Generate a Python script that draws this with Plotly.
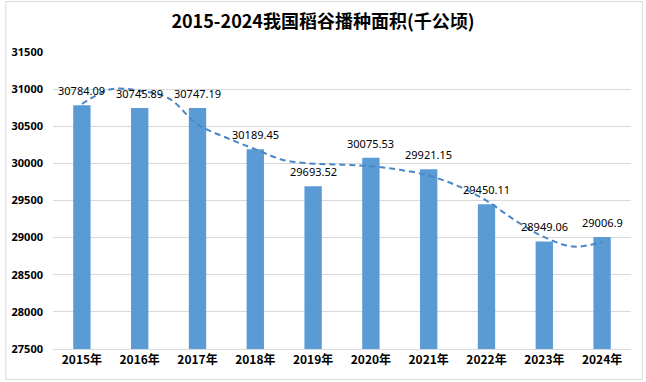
import plotly.graph_objects as go

years = ["2015年", "2016年", "2017年", "2018年", "2019年", "2020年", "2021年", "2022年", "2023年", "2024年"]
area = [30784.09, 30745.89, 30747.19, 30189.45, 29693.52, 30075.53, 29921.15, 29450.11, 28949.06, 29006.9]
area_labels = ["30784.09", "30745.89", "30747.19", "30189.45", "29693.52", "30075.53", "29921.15", "29450.11", "28949.06", "29006.9"]

# dashed trend curve at half-year steps
trend_pos = [0, 0.5, 1, 1.5, 2, 2.5, 3, 3.5, 4, 4.5, 5, 5.5, 6, 6.5, 7, 7.5, 8, 8.5, 9]
trend_val = [30800, 30998, 30978, 30877, 30527, 30345, 30190, 30043, 29996, 29982,
             29962, 29913, 29837, 29697, 29498, 29229, 29007, 28880, 28940]

y_ticks = [27500, 28000, 28500, 29000, 29500, 30000, 30500, 31000, 31500]

xpos = list(range(len(years)))

fig = go.Figure()
fig.add_trace(go.Bar(
    x=xpos, y=area, width=0.30,
    marker=dict(color="#5B9BD5", line=dict(width=0)),
    showlegend=False,
))
fig.add_trace(go.Scatter(
    x=trend_pos, y=trend_val, mode="lines",
    line=dict(color="#4A86C5", width=2, dash="6px,4px", shape="spline", smoothing=1.0),
    showlegend=False, hoverinfo="skip",
))

annotations = [
    dict(x=xv, y=yv, xref="x", yref="y", text=tx, showarrow=False,
         xanchor="center", yanchor="bottom", yshift=5,
         font=dict(family="Noto Sans, Open Sans, sans-serif", size=11, color="#000000"))
    for xv, yv, tx in zip(xpos, area, area_labels)
]

L, R, T, B = 49, 15, 52, 33
W, H = 646, 382
pw, ph = W - L - R, H - T - B

fig.update_layout(
    width=W, height=H,
    margin=dict(l=L, r=R, t=T, b=B),
    paper_bgcolor="#FFFFFF", plot_bgcolor="#FFFFFF",
    title=dict(text="<b>2015-2024我国稻谷播种面积(千公顷)</b>",
               x=0.5, xanchor="center", y=1 - 22 / H, yanchor="middle",
               font=dict(family="Noto Sans CJK SC, sans-serif", size=18, color="#000000")),
    font=dict(family="Noto Sans CJK SC, Noto Sans, sans-serif", color="#000000"),
    bargap=0.7,
    annotations=annotations,
    xaxis=dict(
        range=[-0.5, 9.5], tickmode="array", tickvals=xpos,
        ticktext=["<b>%s</b>" % y for y in years],
        showgrid=False, zeroline=False, showline=True, linecolor="#D9D9D9", linewidth=1,
        ticks="", tickfont=dict(size=12, family="Noto Sans CJK SC, sans-serif", color="#000000"),
        fixedrange=True,
    ),
    yaxis=dict(
        range=[27500, 31500], tickmode="array", tickvals=y_ticks,
        ticktext=["<b>%d</b>" % v for v in y_ticks],
        showgrid=True, gridcolor="#D9D9D9", gridwidth=1, zeroline=False, showline=False,
        ticks="", ticklabelstandoff=9,
        tickfont=dict(size=11, family="Noto Sans, sans-serif", color="#000000"),
        fixedrange=True,
    ),
    shapes=[dict(
        type="rect", xref="paper", yref="paper",
        x0=(1.5 - L) / pw, x1=(W - 3.5 - L) / pw,
        y0=(H - B - (H - 2.5)) / ph, y1=(H - B - 1.5) / ph,
        line=dict(color="#D9D9D9", width=1), fillcolor="rgba(0,0,0,0)", layer="below",
    )],
)

fig.write_html("out.html", config={"displayModeBar": False},
               post_script="document.body.style.margin='0';document.body.style.overflow='hidden';")
